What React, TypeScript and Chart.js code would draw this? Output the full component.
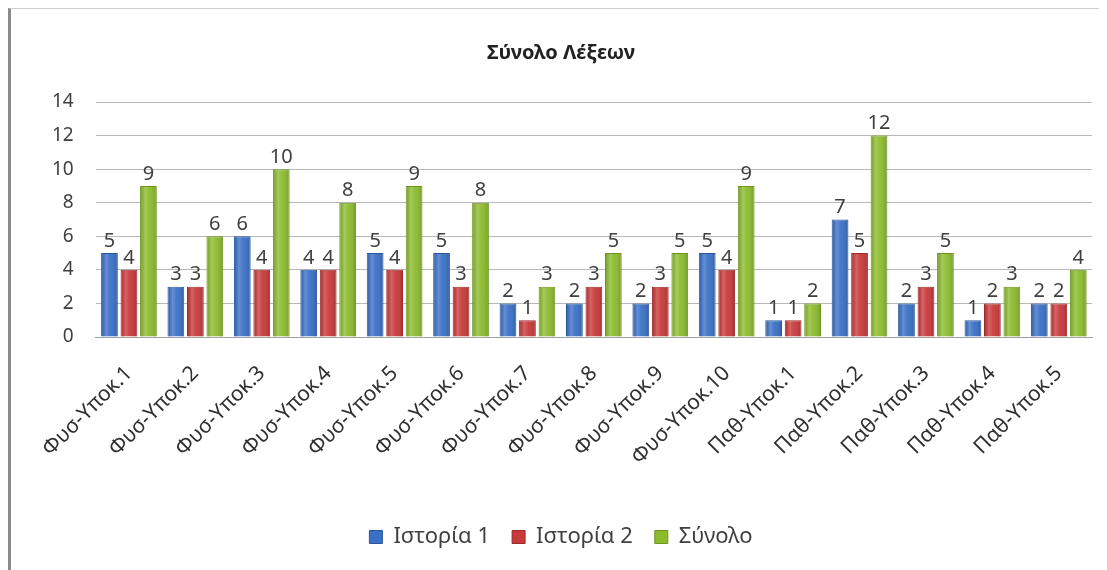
import React, { useEffect, useRef } from "react";
import { Chart, registerables } from "chart.js";

Chart.register(...registerables);

const categories = [
  "Φυσ-Υποκ.1", "Φυσ-Υποκ.2", "Φυσ-Υποκ.3", "Φυσ-Υποκ.4", "Φυσ-Υποκ.5",
  "Φυσ-Υποκ.6", "Φυσ-Υποκ.7", "Φυσ-Υποκ.8", "Φυσ-Υποκ.9", "Φυσ-Υποκ.10",
  "Παθ-Υποκ.1", "Παθ-Υποκ.2", "Παθ-Υποκ.3", "Παθ-Υποκ.4", "Παθ-Υποκ.5",
];
const story1 = [5, 3, 6, 4, 5, 5, 2, 2, 2, 5, 1, 7, 2, 1, 2];
const story2 = [4, 3, 4, 4, 4, 3, 1, 3, 3, 4, 1, 5, 3, 2, 2];
const total = [9, 6, 10, 8, 9, 8, 3, 5, 5, 9, 2, 12, 5, 3, 4];
const seriesNames = ["Ιστορία 1", "Ιστορία 2", "Σύνολο"];
const yTicks = [0, 2, 4, 6, 8, 10, 12, 14];
const chartTitle = "Σύνολο Λέξεων";

const FONT = "'Noto Sans', 'Open Sans', sans-serif";

const barShine = {
  id: "barShine",
  afterDatasetsDraw(chart: any) {
    const ctx = chart.ctx;
    ctx.save();
    chart.data.datasets.forEach((_ds: any, i: number) => {
      const meta = chart.getDatasetMeta(i);
      meta.data.forEach((bar: any) => {
        const left = bar.x - bar.width / 2;
        const g = ctx.createLinearGradient(left, 0, left + bar.width, 0);
        g.addColorStop(0, "rgba(0,0,0,0.10)");
        g.addColorStop(0.3, "rgba(255,255,255,0.22)");
        g.addColorStop(0.55, "rgba(255,255,255,0.05)");
        g.addColorStop(1, "rgba(0,0,0,0.18)");
        ctx.fillStyle = g;
        ctx.fillRect(left + 1, bar.y + 1, bar.width - 2, bar.base - bar.y - 1);
      });
    });
    ctx.restore();
  },
};

const valueLabels = {
  id: "valueLabels",
  afterDatasetsDraw(chart: any) {
    const ctx = chart.ctx;
    ctx.save();
    ctx.font = `20px ${FONT}`;
    ctx.fillStyle = "#404040";
    ctx.textAlign = "center";
    ctx.textBaseline = "bottom";
    chart.data.datasets.forEach((ds: any, i: number) => {
      const meta = chart.getDatasetMeta(i);
      meta.data.forEach((bar: any, j: number) => {
        ctx.fillText(String(ds.data[j]), bar.x, bar.y - 2);
      });
    });
    ctx.restore();
  },
};

export default function App() {
  const ref = useRef<HTMLCanvasElement>(null);
  useEffect(() => {
    const colors = ["#3a70c6", "#c8393a", "#8cbb2e"];
    const borders = ["#2a579c", "#9c2a2a", "#6d9420"];
    const chart = new Chart(ref.current!, {
      type: "bar",
      data: {
        labels: categories,
        datasets: [story1, story2, total].map((d, i) => ({
          label: seriesNames[i],
          data: d,
          backgroundColor: colors[i],
          borderColor: borders[i],
          borderWidth: 1,
          barPercentage: 0.86,
          categoryPercentage: 0.88,
        })),
      },
      options: {
        responsive: false,
        animation: false,
        layout: { padding: { left: 19, right: 15, top: 10, bottom: 12 } },
        plugins: {
          title: {
            display: true,
            text: chartTitle,
            font: { family: FONT, size: 20, weight: "bold" },
            color: "#222",
            padding: { top: 22, bottom: 37 },
          },
          legend: {
            position: "bottom",
            labels: {
              font: { family: FONT, size: 22 },
              color: "#404040",
              boxWidth: 13,
              boxHeight: 13,
              padding: 22,
            },
          },
          tooltip: { enabled: false },
        },
        scales: {
          x: {
            grid: { display: false, drawTicks: false },
            border: { color: "#a0a0a0" },
            afterFit: (axis: any) => {
              axis.height = 167;
            },
            ticks: {
              font: { family: FONT, size: 21 },
              color: "#303030",
              maxRotation: 45,
              minRotation: 45,
              padding: 24,
              autoSkip: false,
            },
          },
          y: {
            min: 0,
            max: 14,
            afterBuildTicks: (axis: any) => {
              axis.ticks = yTicks.map((v) => ({ value: v }));
            },
            grid: { color: "#b8b8b8", drawTicks: false },
            border: { display: false },
            ticks: {
              font: { family: FONT, size: 19 },
              color: "#404040",
              padding: 22,
            },
          },
        },
      },
      plugins: [barShine, valueLabels],
    });
    return () => chart.destroy();
  }, []);
  return (
    <div
      style={{
        width: 1099,
        height: 562,
        boxSizing: "border-box",
        borderLeft: "3px solid #8a8a8a",
        borderTop: "1px solid #d0d0d0",
        background: "#fff",
      }}
    >
      <canvas ref={ref} width={1096} height={561} />
    </div>
  );
}
